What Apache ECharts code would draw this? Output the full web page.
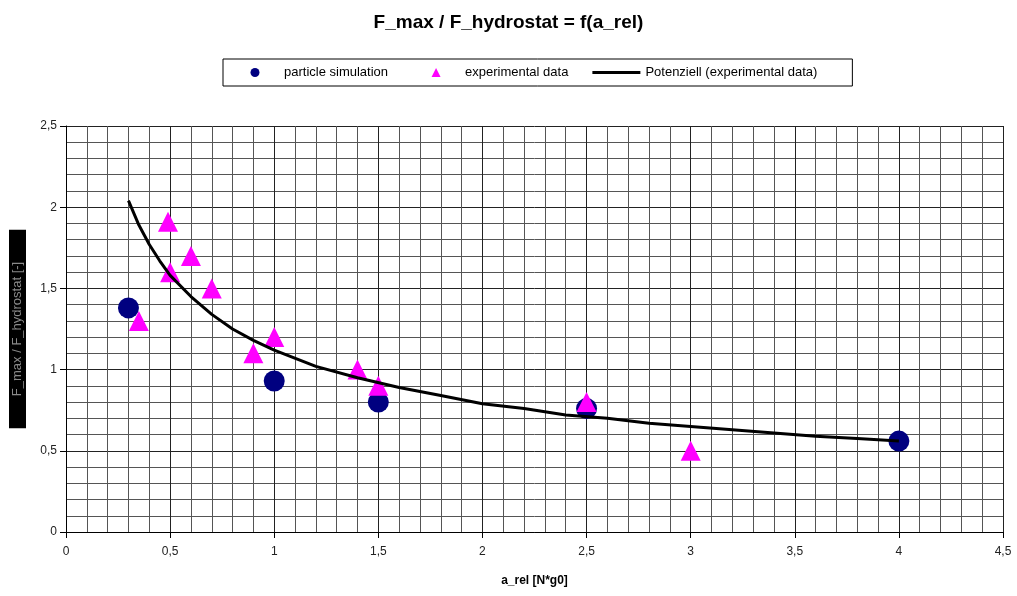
<!DOCTYPE html>
<html>
<head>
<meta charset="utf-8">
<script src="https://cdn.jsdelivr.net/npm/echarts@6/dist/echarts.min.js"></script>
<style>
html,body{margin:0;padding:0;background:#fff;}
#chart{width:1017px;height:596px;}
</style>
</head>
<body>
<div id="chart"></div>
<script>
// ---- data ----
const simX = [0.3, 1.0, 1.5, 2.5, 4.0];
const simY = [1.38, 0.93, 0.80, 0.76, 0.56];

const expX = [0.35, 0.49, 0.5, 0.6, 0.7, 0.9, 1.0, 1.4, 1.5, 2.5, 3.0];
const expY = [1.30, 1.91, 1.60, 1.70, 1.50, 1.10, 1.20, 1.00, 0.90, 0.80, 0.50];

// trend line (power fit)
const trendX = [0.3, 0.35, 0.4, 0.45, 0.5, 0.6, 0.7, 0.8, 0.9, 1.0, 1.2, 1.4, 1.6, 1.8, 2.0, 2.2, 2.4, 2.6, 2.8, 3.0, 3.2, 3.4, 3.6, 3.8, 4.0];
const trendY = [2.04, 1.89, 1.77, 1.67, 1.58, 1.45, 1.34, 1.25, 1.18, 1.12, 1.02, 0.95, 0.89, 0.84, 0.79, 0.76, 0.72, 0.70, 0.67, 0.65, 0.63, 0.61, 0.59, 0.575, 0.56];

const xTickValues = [0, 0.5, 1, 1.5, 2, 2.5, 3, 3.5, 4, 4.5];
const xTickLabels = ['0', '0,5', '1', '1,5', '2', '2,5', '3', '3,5', '4', '4,5'];
const yTickValues = [0, 0.5, 1, 1.5, 2, 2.5];
const yTickLabels = ['0', '0,5', '1', '1,5', '2', '2,5'];

const titleText = 'F_max / F_hydrostat = f(a_rel)';
const xName = 'a_rel [N*g0]';
const yName = 'F_max / F_hydrostat [-]';
const seriesNames = ['particle simulation', 'experimental data', 'Potenziell (experimental data)'];

function pairs(xs, ys) { return xs.map((x, i) => [x, ys[i]]); }
function labelFor(values, labels) {
  return function (v) {
    for (let i = 0; i < values.length; i++) if (Math.abs(values[i] - v) < 1e-6) return labels[i];
    return '';
  };
}

const chart = echarts.init(document.getElementById('chart'), null, {renderer: 'canvas'});
const FONT = '"Liberation Sans", Arial, sans-serif';

// legend icons: each path spans the full 48x9 item box (invisible corner moves),
// so the visible mark stays centred and undistorted
const ICON_CIRCLE = 'path://M0,0 M48,9 M19.5,4.5 A4.5,4.5 0 1,0 28.5,4.5 A4.5,4.5 0 1,0 19.5,4.5 Z';
const ICON_TRIANGLE = 'path://M0,0 M48,9 M24,0 L28.5,9 L19.5,9 Z';
const ICON_LINE = 'path://M0,0 M48,9 M0,3 L48,3 L48,6 L0,6 Z';

chart.setOption({
  animation: false,
  backgroundColor: '#fff',
  textStyle: {fontFamily: FONT},
  title: {
    text: titleText,
    left: 'center',
    top: 8,
    textStyle: {fontFamily: FONT, fontSize: 19, fontWeight: 'bold', color: '#000'}
  },
  legend: {
    left: 223,
    top: 59,
    orient: 'horizontal',
    borderColor: '#000',
    borderWidth: 1,
    padding: [7, 35, 7, 8],
    itemWidth: 48,
    itemHeight: 9,
    itemGap: 24,
    symbolKeepAspect: false,
    textStyle: {fontFamily: FONT, fontSize: 13, color: '#000'},
    data: [
      {name: seriesNames[0], icon: ICON_CIRCLE, itemStyle: {color: '#000080', opacity: 1}},
      {name: seriesNames[1], icon: ICON_TRIANGLE, itemStyle: {color: '#ff00ff', opacity: 1}},
      {name: seriesNames[2], icon: ICON_LINE, itemStyle: {color: '#000', opacity: 1}}
    ]
  },
  grid: {left: 66, right: 14, top: 126, bottom: 64, containLabel: false},
  xAxis: {
    type: 'value',
    min: 0, max: 4.5, interval: 0.5,
    name: xName,
    nameLocation: 'middle',
    nameGap: 43,
    nameTextStyle: {fontFamily: FONT, fontSize: 12, fontWeight: 'bold', color: '#000', verticalAlign: 'top'},
    axisLine: {show: true, onZero: false, lineStyle: {color: '#000', width: 1}},
    axisTick: {show: true, inside: false, length: 6, lineStyle: {color: '#000'}},
    axisLabel: {margin: 14, fontSize: 12, color: '#222', formatter: labelFor(xTickValues, xTickLabels)},
    splitLine: {show: true, lineStyle: {color: '#222', width: 1}},
    minorTick: {show: false, splitNumber: 5},
    minorSplitLine: {show: true, lineStyle: {color: '#555', width: 1}}
  },
  yAxis: {
    type: 'value',
    min: 0, max: 2.5, interval: 0.5,
    name: yName,
    nameLocation: 'middle',
    nameRotate: 90,
    nameGap: 40,
    nameTextStyle: {
      fontFamily: FONT, fontSize: 13, color: '#8a8a8a',
      backgroundColor: '#000', padding: [2, 32, 2, 32], lineHeight: 13
    },
    axisLine: {show: true, onZero: false, lineStyle: {color: '#000', width: 1}},
    axisTick: {show: true, inside: false, length: 6, lineStyle: {color: '#000'}},
    axisLabel: {margin: 9, fontSize: 12, color: '#222', formatter: labelFor(yTickValues, yTickLabels)},
    splitLine: {show: true, lineStyle: {color: '#222', width: 1}},
    minorTick: {show: false, splitNumber: 5},
    minorSplitLine: {show: true, lineStyle: {color: '#555', width: 1}}
  },
  series: [
    {
      name: seriesNames[0],
      type: 'scatter',
      symbol: 'circle',
      symbolSize: 21,
      itemStyle: {color: '#000080', opacity: 1},
      emphasis: {disabled: true},
      data: pairs(simX, simY)
    },
    {
      name: seriesNames[1],
      type: 'scatter',
      symbol: 'triangle',
      symbolSize: 20,
      itemStyle: {color: '#ff00ff', opacity: 1},
      emphasis: {disabled: true},
      data: pairs(expX, expY)
    },
    {
      name: seriesNames[2],
      type: 'line',
      symbol: 'none',
      smooth: false,
      lineStyle: {color: '#000', width: 3},
      itemStyle: {color: '#000'},
      emphasis: {disabled: true},
      data: pairs(trendX, trendY)
    }
  ]
});
</script>
</body>
</html>
